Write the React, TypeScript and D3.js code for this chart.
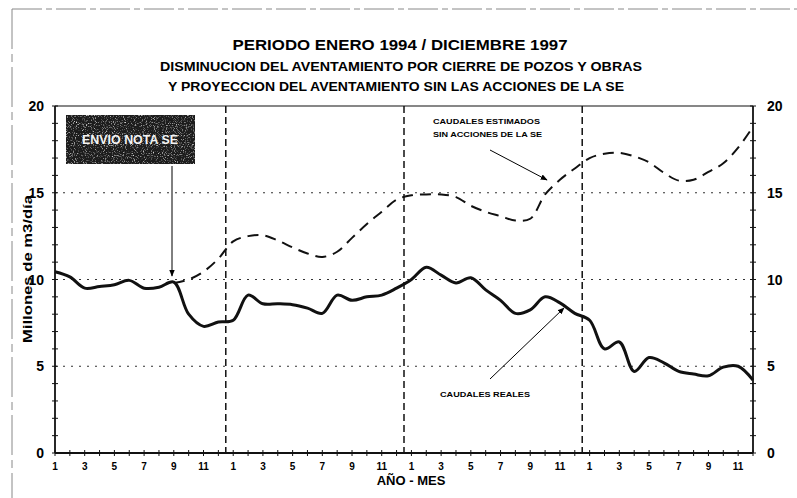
import React from "react";
import * as d3 from "d3";

const months: string[] = [
  "1994-01","1994-02","1994-03","1994-04","1994-05","1994-06","1994-07","1994-08","1994-09","1994-10","1994-11","1994-12",
  "1995-01","1995-02","1995-03","1995-04","1995-05","1995-06","1995-07","1995-08","1995-09","1995-10","1995-11","1995-12",
  "1996-01","1996-02","1996-03","1996-04","1996-05","1996-06","1996-07","1996-08","1996-09","1996-10","1996-11","1996-12",
  "1997-01","1997-02","1997-03","1997-04","1997-05","1997-06","1997-07","1997-08","1997-09","1997-10","1997-11","1997-12",
];

const monthTickLabels: string[] = ["1", "3", "5", "7", "9", "11"];

const realFlows: number[] = [
  10.45, 10.15, 9.5, 9.6, 9.7, 9.95, 9.5, 9.55, 9.85, 8.0, 7.3, 7.55,
  7.65, 9.1, 8.6, 8.6, 8.55, 8.35, 8.05, 9.1, 8.8, 9.0, 9.1, 9.5,
  10.0, 10.7, 10.25, 9.8, 10.1, 9.4, 8.8, 8.05, 8.25, 9.0, 8.65, 8.05,
  7.65, 6.0, 6.4, 4.7, 5.5, 5.2, 4.7, 4.55, 4.45, 4.95, 5.0, 4.2,
];

const estimatedStart = 8;
const estimatedFlows: number[] = [
  9.8, 10.0, 10.45, 11.2,
  12.2, 12.5, 12.55, 12.25, 11.85, 11.5, 11.3, 11.6, 12.4, 13.2, 13.9, 14.6,
  14.85, 14.9, 14.9, 14.75, 14.25, 13.9, 13.65, 13.4, 13.5, 14.9, 15.75, 16.4,
  17.0, 17.25, 17.3, 17.1, 16.75, 16.15, 15.7, 15.75, 16.2, 16.7, 17.6, 18.8,
];

const yTicks: number[] = [0, 5, 10, 15, 20];
const gridValues: number[] = [5, 10, 15];

const titleText = "PERIODO ENERO 1994 / DICIEMBRE 1997";
const subtitle1 = "DISMINUCION DEL AVENTAMIENTO POR CIERRE DE POZOS Y OBRAS";
const subtitle2 = "Y PROYECCION DEL AVENTAMIENTO SIN LAS ACCIONES DE LA SE";
const yTitle = "Millones de m3/día";
const xTitle = "AÑO - MES";
const noteBox = "ENVIO NOTA SE";
const estLabel1 = "CAUDALES ESTIMADOS";
const estLabel2 = "SIN ACCIONES DE LA SE";
const realLabel = "CAUDALES REALES";

const FONT = "'Liberation Sans Narrow', 'Liberation Sans', Arial, sans-serif";

export default function App() {
  const W = 797, H = 498;
  const left = 55, right = 753, top = 106, bottom = 453;

  const x = d3.scalePoint<string>().domain(months).range([left, right]).padding(0);
  const step = x.step();
  const y = d3.scaleLinear().domain([0, 20]).range([bottom, top]);

  const realPts: [number, number][] = realFlows.map((v, i) => [x(months[i])!, y(v)]);
  const estPts: [number, number][] = estimatedFlows.map((v, i) => [x(months[i + estimatedStart])!, y(v)]);
  const line = d3.line().curve(d3.curveCatmullRom.alpha(0.5));

  const yearBoundaries = [11, 23, 35].map((i) => x(months[i])! + step / 2);
  const minorY = d3.range(0, 21, 1);

  return (
    <svg width={W} height={H} style={{ position: "absolute", left: 0, top: 0, background: "#fff" }}>
      <defs>
        <marker id="arrow" viewBox="0 0 10 10" refX="9" refY="5" markerWidth="7" markerHeight="7" orient="auto-start-reverse">
          <path d="M0,1 L10,5 L0,9 z" fill="#000" />
        </marker>
        <filter id="noise" x="0" y="0" width="100%" height="100%">
          <feTurbulence type="fractalNoise" baseFrequency="0.9" numOctaves="2" seed="3" result="t" />
          <feColorMatrix type="matrix" values="0 0 0 0 0.75  0 0 0 0 0.75  0 0 0 0 0.75  0 0 0 3 -1.6" />
        </filter>
      </defs>
      <rect width={W} height={H} fill="#fff" />
      {/* outer border */}
      <line x1={12} y1={9} x2={797} y2={9} stroke="#888" strokeWidth={1} strokeDasharray="30,4,6,4" />
      <line x1={12} y1={9} x2={12} y2={498} stroke="#888" strokeWidth={1} strokeDasharray="40,5,8,5" />

      {/* titles */}
      <text x={400} y={50} textAnchor="middle" fontFamily={FONT} fontWeight="bold" fontSize={15} textLength={335} lengthAdjust="spacingAndGlyphs">{titleText}</text>
      <text x={401} y={71} textAnchor="middle" fontFamily={FONT} fontWeight="bold" fontSize={12} textLength={482} lengthAdjust="spacingAndGlyphs">{subtitle1}</text>
      <text x={396} y={91} textAnchor="middle" fontFamily={FONT} fontWeight="bold" fontSize={12} textLength={456} lengthAdjust="spacingAndGlyphs">{subtitle2}</text>

      {/* grid */}
      {gridValues.map((v) => (
        <line key={v} x1={left} x2={right} y1={y(v)} y2={y(v)} stroke="#333" strokeWidth={1} strokeDasharray="2,6" />
      ))}
      {yearBoundaries.map((bx, i) => (
        <line key={i} x1={bx} x2={bx} y1={top} y2={bottom} stroke="#111" strokeWidth={1.5} strokeDasharray="7,4" />
      ))}

      {/* frame */}
      <line x1={left} x2={right} y1={top} y2={top} stroke="#111" strokeWidth={1.2} />
      <line x1={left} x2={right} y1={bottom} y2={bottom} stroke="#111" strokeWidth={1.8} />
      <line x1={left} x2={left} y1={top} y2={bottom} stroke="#111" strokeWidth={1.8} />
      <line x1={right} x2={right} y1={top} y2={bottom} stroke="#111" strokeWidth={1.8} />

      {/* y minor ticks */}
      {minorY.map((v) => (
        <g key={v}>
          <line x1={left - 3} x2={left + 3} y1={y(v)} y2={y(v)} stroke="#111" strokeWidth={1} />
          <line x1={right - 3} x2={right + 3} y1={y(v)} y2={y(v)} stroke="#111" strokeWidth={1} />
        </g>
      ))}
      {/* x ticks */}
      {months.map((m) => (
        <line key={m} x1={x(m)!} x2={x(m)!} y1={bottom - 3} y2={bottom + 3} stroke="#111" strokeWidth={1} />
      ))}

      {/* y tick labels */}
      {yTicks.map((v) => (
        <g key={v}>
          <text x={44} y={y(v) + 5} textAnchor="end" fontFamily={FONT} fontWeight="bold" fontSize={14}>{v}</text>
          <text x={767} y={y(v) + 5} textAnchor="start" fontFamily={FONT} fontWeight="bold" fontSize={14}>{v}</text>
        </g>
      ))}
      {/* x tick labels */}
      {months.map((m) => {
        const mm = String(parseInt(m.slice(5), 10));
        if (!monthTickLabels.includes(mm)) return null;
        return (
          <text key={m} x={x(m)!} y={470} textAnchor="middle" fontFamily={FONT} fontWeight="bold" fontSize={10}>{mm}</text>
        );
      })}

      {/* axis titles */}
      <text x={411} y={485} textAnchor="middle" fontFamily={FONT} fontWeight="bold" fontSize={13}>{xTitle}</text>
      <text transform={`translate(32,269) rotate(-90)`} textAnchor="middle" fontFamily={FONT} fontWeight="bold" fontSize={12} textLength={148} lengthAdjust="spacingAndGlyphs">{yTitle}</text>

      {/* series */}
      <path d={line(estPts) || ""} fill="none" stroke="#111" strokeWidth={2} strokeDasharray="11,7" />
      <path d={line(realPts) || ""} fill="none" stroke="#111" strokeWidth={3} strokeLinejoin="round" />

      {/* annotation box */}
      <rect x={66} y={115} width={129} height={49} fill="#1c1c1c" />
      <rect x={66} y={115} width={129} height={49} filter="url(#noise)" />
      <text x={130} y={144} textAnchor="middle" fontFamily={FONT} fontWeight="bold" fontSize={12} fill="#f4f4f4" textLength={96} lengthAdjust="spacingAndGlyphs">{noteBox}</text>
      <line x1={172} y1={166} x2={172} y2={276} stroke="#000" strokeWidth={1} markerEnd="url(#arrow)" />

      {/* estimated label */}
      <text x={433} y={124} fontFamily={FONT} fontWeight="bold" fontSize={8} textLength={107} lengthAdjust="spacingAndGlyphs">{estLabel1}</text>
      <text x={433} y={137} fontFamily={FONT} fontWeight="bold" fontSize={8} textLength={109} lengthAdjust="spacingAndGlyphs">{estLabel2}</text>
      <line x1={490} y1={150} x2={547} y2={180} stroke="#000" strokeWidth={1} markerEnd="url(#arrow)" />

      {/* real label */}
      <text x={440} y={397} fontFamily={FONT} fontWeight="bold" fontSize={8} textLength={90} lengthAdjust="spacingAndGlyphs">{realLabel}</text>
      <line x1={490} y1={379} x2={564} y2={308} stroke="#000" strokeWidth={1} markerEnd="url(#arrow)" />
    </svg>
  );
}
